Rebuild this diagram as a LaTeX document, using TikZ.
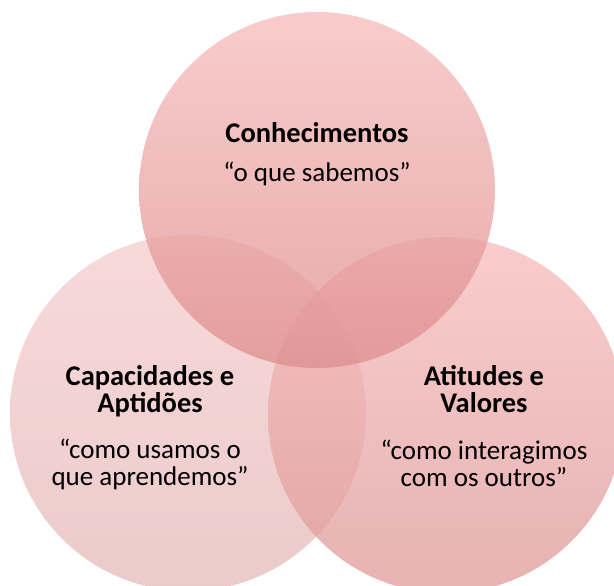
\documentclass[tikz,border=0pt]{standalone}
\usepackage{fontspec}
\setmainfont{Carlito}
\usepackage{tikz}
\usepackage{xcolor}

\definecolor{kTop}{RGB}{247,187,187}
\definecolor{kBot}{RGB}{222,140,140}
\definecolor{cTop}{RGB}{246,205,205}
\definecolor{cBot}{RGB}{228,184,184}
\definecolor{aTop}{RGB}{247,188,188}
\definecolor{aBot}{RGB}{222,152,152}

\newcommand{\ttl}[1]{\textbf{#1}}

\tikzset{venn/.style={circle,minimum size=356pt,inner sep=0pt,fill opacity=0.75},
         lbl/.style={align=center,anchor=base,font=\fontsize{28.5}{27}\selectfont},
         qlbl/.style={lbl,font=\fontsize{27}{27}\selectfont}}

\begin{document}
\begin{tikzpicture}[x=1pt,y=-1pt]
 \useasboundingbox (0,0) rectangle (614,586);
 \clip (0,0) rectangle (614,586);

 % the three sets
 \node[venn,top color=cTop,bottom color=cBot] (C) at (188,413) {};
 \node[venn,top color=aTop,bottom color=aBot] (A) at (446,415) {};
 \node[venn,top color=kTop,bottom color=kBot] (K) at (317,190) {};

 % labels (base = last line)
 \node[lbl] (Kt) at (317,142.5) {\ttl{Conhecimentos}};
 \node[qlbl] (Kq) at (317,181.5) {“o que sabemos”};

 \node[lbl] (Ct) at (150,412) {\ttl{Capacidades e}\\\ttl{Aptidões}};
 \node[qlbl] (Cq) at (150,485) {“como usamos o\\que aprendemos”};

 \node[lbl] (At) at (484,412) {\ttl{Atitudes e}\\\ttl{Valores}};
 \node[qlbl] (Aq) at (484,486) {“como interagimos\\com os outros”};

\end{tikzpicture}
\end{document}
